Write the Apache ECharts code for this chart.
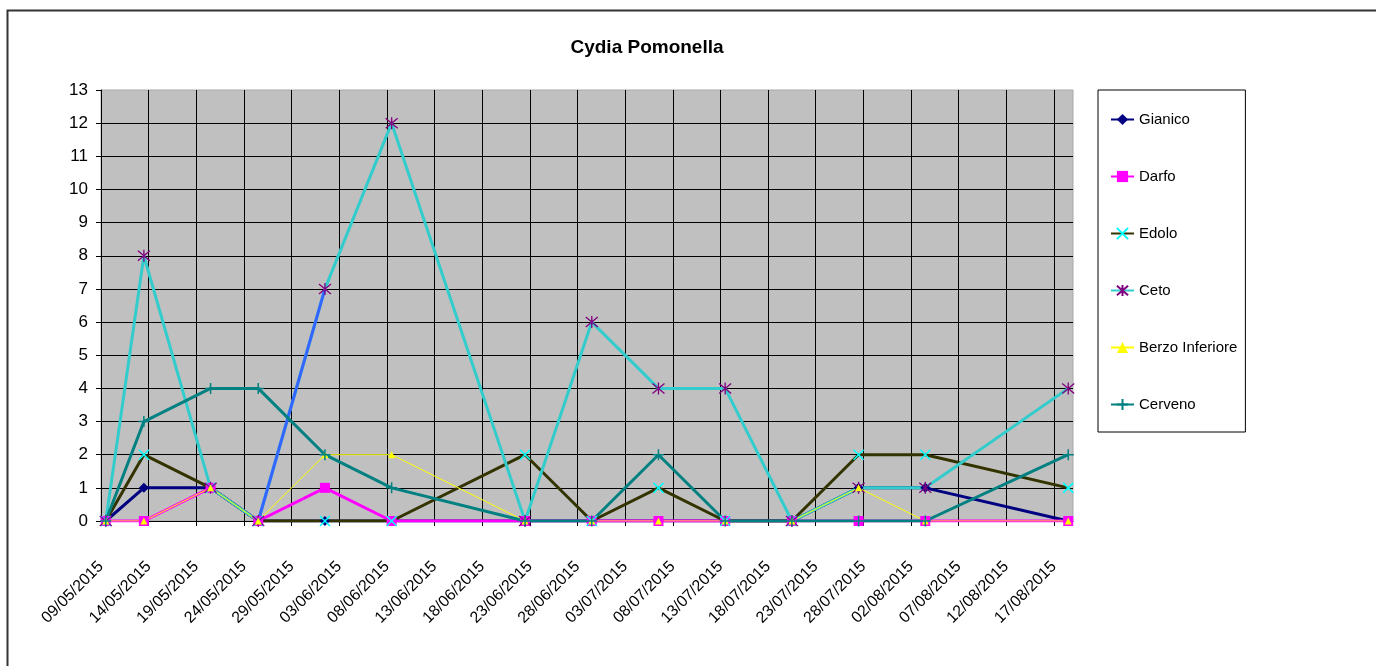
<!DOCTYPE html>
<html lang="it">

<head>
    <meta charset="UTF-8">
    <title>Cydia Pomonella</title>
    <script src="https://cdnjs.cloudflare.com/ajax/libs/echarts/6.0.0/echarts.min.js"></script>
</head>
<style>
    html, body {
        margin: 0;
        padding: 0;
        background: #fff;
    }
</style>

<body>
    <div id="main" style="width: 1376px;height:666px;"></div>
</body>
<script>
    // date di rilievo (una ogni settimana circa)
    var sampleDates = ['09/05/2015', '13/05/2015', '20/05/2015', '25/05/2015', '01/06/2015', '08/06/2015',
        '22/06/2015', '29/06/2015', '06/07/2015', '13/07/2015', '20/07/2015', '27/07/2015',
        '03/08/2015', '18/08/2015'];

    var gianico = [0, 1, 1, 0, 0, 0, 0, 0, 0, 0, 0, 1, 1, 0];
    var darfo = [0, 0, 1, 0, 1, 0, 0, 0, 0, 0, 0, 0, 0, 0];
    var edolo = [0, 2, 1, 0, 0, 0, 2, 0, 1, 0, 0, 2, 2, 1];
    var ceto = [0, 8, 1, 0, 7, 12, 0, 6, 4, 4, 0, 1, 1, 4];
    var berzo = [0, 0, 1, 0, 2, 2, 0, 0, 0, 0, 0, 1, 0, 0];
    var cerveno = [0, 3, 4, 4, 2, 1, 0, 0, 2, 0, 0, 0, 0, 2];

    var axisStart = '09/05/2015';
    var axisDays = 102;     // fino al 19/08/2015
    var tickStep = 5;       // un'etichetta ogni 5 giorni

    var DAY = 86400000;

    function toUTC(s) {
        var p = s.split('/').map(Number);
        return Date.UTC(p[2], p[1] - 1, p[0]);
    }
    var start = toUTC(axisStart);

    function dayOf(s) {
        return (toUTC(s) - start) / DAY;
    }

    function fmtDay(v) {
        var d = new Date(start + v * DAY);
        var dd = ('0' + d.getUTCDate()).slice(-2);
        var mm = ('0' + (d.getUTCMonth() + 1)).slice(-2);
        return dd + '/' + mm + '/' + d.getUTCFullYear();
    }

    // punto al centro della giornata
    function pts(vals) {
        return sampleDates.map((d, i) => [dayOf(d) + 0.5, vals[i]]);
    }

    var chart = echarts.init(document.getElementById('main'));

    var FONT = "'Liberation Sans', Arial, sans-serif";
    var crossX = 'path://M0,0L10,10M10,0L0,10';
    var star = 'path://M0,0L10,10M10,0L0,10M5,-1L5,11';
    var plus = 'path://M5,0L5,10M0,5L10,5';

    function line(name, data, color, width, symbol, size, itemStyle) {
        return {
            name: name,
            type: 'line',
            data: data,
            symbol: symbol,
            symbolSize: size,
            showAllSymbol: true,
            animation: false,
            lineStyle: { color: color, width: width },
            itemStyle: itemStyle,
            emphasis: { disabled: true }
        };
    }

    var cetoPts = pts(ceto);

    var option = {
        textStyle: { fontFamily: FONT },
        title: {
            text: 'Cydia Pomonella',
            left: 642,
            textAlign: 'center',
            top: 33,
            textStyle: { fontSize: 19, fontWeight: 'bold', color: '#000', fontFamily: FONT }
        },
        graphic: [{
            type: 'rect',
            left: 5, top: 8,
            shape: { width: 1400, height: 700 },
            style: { fill: 'none', stroke: '#333', lineWidth: 2 },
            silent: true
        }],
        legend: {
            data: ['Gianico', 'Darfo', 'Edolo', 'Ceto', 'Berzo Inferiore', 'Cerveno'],
            orient: 'vertical',
            left: 1098,
            top: 90,
            padding: [22, 8, 20, 12],
            itemGap: 42,
            itemWidth: 23,
            itemHeight: 14,
            backgroundColor: '#fff',
            borderColor: '#000',
            borderWidth: 1,
            selectedMode: false,
            textStyle: { fontSize: 15, color: '#000', fontFamily: FONT }
        },
        grid: {
            left: 101,
            top: 90,
            width: 972,
            height: 431,
            show: true,
            backgroundColor: '#C0C0C0',
            borderColor: '#A8A8A8',
            borderWidth: 1
        },
        xAxis: {
            type: 'value',
            min: 0,
            max: axisDays,
            interval: tickStep,
            axisLine: { show: true, lineStyle: { color: '#000', width: 1 } },
            axisTick: { show: true, length: 5, lineStyle: { color: '#000' } },
            splitLine: { show: true, showMaxLine: false, lineStyle: { color: '#000', width: 1 } },
            axisLabel: {
                rotate: 45,
                margin: 43,
                fontSize: 16,
                color: '#000',
                fontFamily: FONT,
                showMaxLabel: false,
                formatter: (v) => (v % tickStep === 0 ? fmtDay(v) : '')
            }
        },
        yAxis: {
            type: 'value',
            min: 0,
            max: 13,
            interval: 1,
            axisLine: { show: true, lineStyle: { color: '#000', width: 1 } },
            axisTick: { show: true, length: 5, lineStyle: { color: '#000' } },
            splitLine: { show: true, showMaxLine: false, lineStyle: { color: '#000', width: 1 } },
            axisLabel: { fontSize: 17, color: '#000', margin: 13, padding: [4, 0, 0, 0], fontFamily: FONT }
        },
        series: [
            line('Gianico', pts(gianico), '#000080', 3, 'diamond', 10, { color: '#000080' }),
            line('Darfo', pts(darfo), '#FF00FF', 3, 'rect', 10, { color: '#FF00FF' }),
            line('Edolo', pts(edolo), '#333300', 3, crossX, 10,
                { color: 'rgba(0,0,0,0)', borderColor: '#00FFFF', borderWidth: 1.5 }),
            line('Ceto', cetoPts, '#33CCCC', 3, star, 12,
                { color: 'rgba(0,0,0,0)', borderColor: '#800080', borderWidth: 1.3 }),
            // tratto 25/05 - 01/06 di Ceto in blu, come nel grafico originale
            line('Ceto-tratto', cetoPts.slice(3, 5), '#3366FF', 3, 'none', 0, { color: '#3366FF' }),
            line('Berzo Inferiore', pts(berzo), '#FFFF00', 1, 'triangle', 7, { color: '#FFFF00' }),
            line('Cerveno', pts(cerveno), '#008080', 3, plus, 11,
                { color: 'rgba(0,0,0,0)', borderColor: '#008080', borderWidth: 1.5 })
        ]
    };

    chart.setOption(option);
</script>

</html>
